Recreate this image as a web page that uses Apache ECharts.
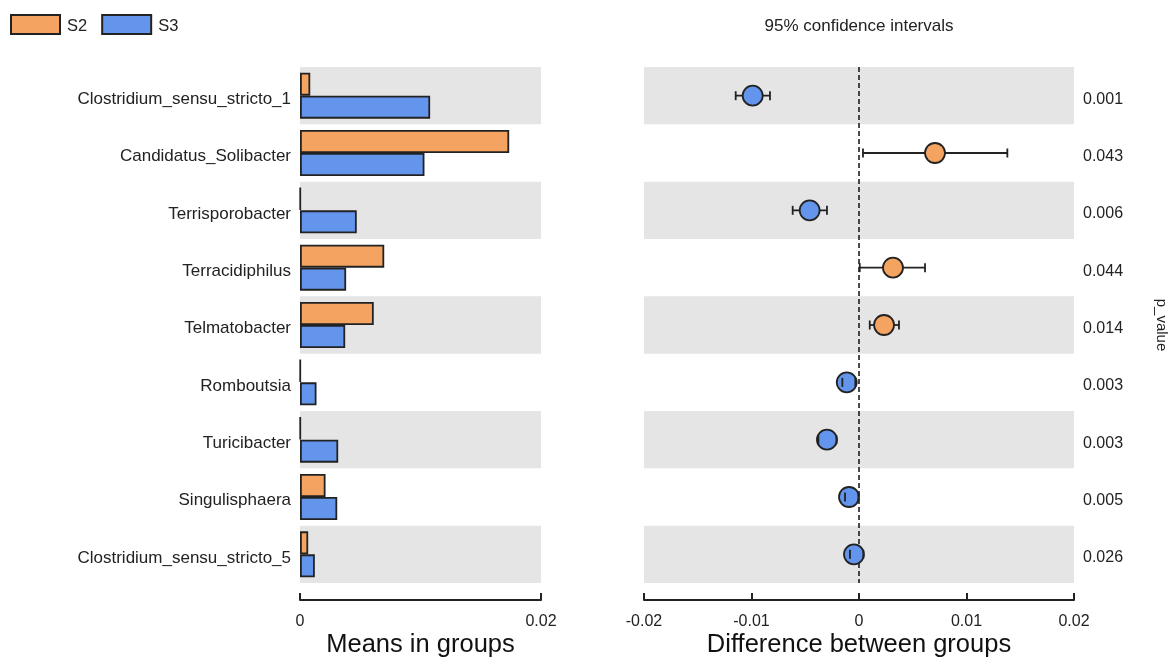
<!DOCTYPE html>
<html>
<head>
<meta charset="utf-8">
<script src="https://cdn.jsdelivr.net/npm/echarts@6/dist/echarts.min.js"></script>
<style>
  html, body { margin: 0; padding: 0; background: #fff; }
  #chart { width: 1172px; height: 658px; }
</style>
</head>
<body>
<div id="chart"></div>
<script>
// Genera compared between groups S2 and S3
const genera = [
  'Clostridium_sensu_stricto_1',
  'Candidatus_Solibacter',
  'Terrisporobacter',
  'Terracidiphilus',
  'Telmatobacter',
  'Romboutsia',
  'Turicibacter',
  'Singulisphaera',
  'Clostridium_sensu_stricto_5'
];
// Mean relative abundance per group
const meanS2 = [0.00085, 0.01736, 0.00004, 0.00699, 0.00612, 0.00004, 0.00004, 0.00212, 0.00068];
const meanS3 = [0.0108, 0.01033, 0.00471, 0.00383, 0.00375, 0.00137, 0.00317, 0.00309, 0.00123];
// Difference between groups with 95% confidence interval
const diffEst = [-0.00989, 0.00707, -0.00459, 0.00316, 0.00233, -0.00114, -0.00298, -0.00093, -0.00047];
const ciLow  = [-0.01147, 0.00037, -0.00617, 0.00007, 0.00100, -0.00155, -0.00378, -0.00130, -0.00084];
const ciHigh = [-0.00828, 0.01380, -0.00298, 0.00614, 0.00372, -0.00034, -0.00210, -0.00006, 0.00040];
const pValues = ['0.001', '0.043', '0.006', '0.044', '0.014', '0.003', '0.003', '0.005', '0.026'];
// Axis ticks
const meanTicks = [0, 0.02];
const diffTicks = [-0.02, -0.01, 0, 0.01, 0.02];

const COLOR_S2 = '#F4A460';
const COLOR_S3 = '#6495ED';
const EDGE = '#222222';
const FONT = 'Arial, "Liberation Sans", sans-serif';
const BAND = ['#E5E5E5', 'rgba(255,255,255,0)'];

const chart = echarts.init(document.getElementById('chart'));

const whiskerData = genera.map((g, i) => [ciLow[i], ciHigh[i], i]);
const pointData = genera.map((g, i) => ({
  value: [diffEst[i], i],
  itemStyle: { color: diffEst[i] > 0 ? COLOR_S2 : COLOR_S3 }
}));

// Horizontal span of each confidence interval (drawn beneath the points)
function renderSpan(params, api) {
  const a = api.coord([api.value(0), api.value(2)]);
  const b = api.coord([api.value(1), api.value(2)]);
  return {
    type: 'line',
    shape: { x1: a[0], y1: a[1], x2: b[0], y2: b[1] },
    style: { stroke: EDGE, lineWidth: 1.8 }
  };
}

// End caps of each confidence interval (drawn above the points)
function renderCaps(params, api) {
  const a = api.coord([api.value(0), api.value(2)]);
  const b = api.coord([api.value(1), api.value(2)]);
  const h = 4.5;
  return {
    type: 'group',
    children: [
      { type: 'line', shape: { x1: a[0], y1: a[1] - h, x2: a[0], y2: a[1] + h }, style: { stroke: EDGE, lineWidth: 1.8 } },
      { type: 'line', shape: { x1: b[0], y1: b[1] - h, x2: b[0], y2: b[1] + h }, style: { stroke: EDGE, lineWidth: 1.8 } }
    ]
  };
}

const valueAxisCommon = {
  type: 'value',
  position: 'bottom',
  offset: 17,
  splitLine: { show: false },
  axisLine: { show: true, onZero: false, lineStyle: { color: EDGE, width: 2 } },
  axisTick: { show: true, inside: true, length: 7, lineStyle: { color: EDGE, width: 2 } },
  axisLabel: { color: '#222', fontSize: 16, fontFamily: FONT, margin: 14 },
  nameLocation: 'middle',
  nameGap: 32,
  nameMoveOverlap: false,
  nameTextStyle: { color: '#111', fontSize: 25.5, fontFamily: FONT }
};

// Row labels are nudged a little below the row centre
const rowLabelRich = (size) => ({ t: { fontSize: size, fontFamily: FONT, color: '#222', padding: [7, 0, 0, 0] } });

const option = {
  animation: false,
  backgroundColor: '#fff',
  legend: {
    left: 10,
    top: 14,
    padding: 0,
    itemWidth: 49,
    itemHeight: 19,
    itemGap: 14,
    icon: 'rect',
    data: ['S2', 'S3'],
    formatter: (name) => '{t|' + name + '}',
    textStyle: {
      fontSize: 16.5,
      color: '#222',
      fontFamily: FONT,
      rich: { t: { fontSize: 16.5, fontFamily: FONT, color: '#222', padding: [4, 0, 0, 2] } }
    }
  },
  graphic: [
    {
      type: 'text',
      x: 859,
      y: 26,
      style: {
        text: '95% confidence intervals',
        align: 'center',
        verticalAlign: 'middle',
        fontSize: 17,
        fontFamily: FONT,
        fill: '#222'
      }
    }
  ],
  grid: [
    { left: 300, top: 67, width: 241, height: 516, outerBoundsMode: 'none' },
    { left: 644, top: 67, width: 430, height: 516, outerBoundsMode: 'none' }
  ],
  xAxis: [
    Object.assign({}, valueAxisCommon, {
      gridIndex: 0,
      min: meanTicks[0],
      max: meanTicks[meanTicks.length - 1],
      interval: meanTicks[1] - meanTicks[0],
      name: 'Means in groups'
    }),
    Object.assign({}, valueAxisCommon, {
      gridIndex: 1,
      min: diffTicks[0],
      max: diffTicks[diffTicks.length - 1],
      interval: diffTicks[1] - diffTicks[0],
      name: 'Difference between groups'
    })
  ],
  yAxis: [
    {
      type: 'category',
      gridIndex: 0,
      data: genera,
      inverse: true,
      axisLine: { show: false },
      axisTick: { show: false },
      axisLabel: {
        interval: 0,
        margin: 9,
        formatter: (v) => '{t|' + v + '}',
        rich: rowLabelRich(17)
      },
      splitArea: { show: true, interval: 0, areaStyle: { color: BAND } }
    },
    {
      type: 'category',
      gridIndex: 1,
      data: genera,
      inverse: true,
      position: 'right',
      axisLine: { show: false },
      axisTick: { show: false },
      axisLabel: {
        interval: 0,
        margin: 9,
        formatter: (v, idx) => '{t|' + pValues[idx] + '}',
        rich: rowLabelRich(16)
      },
      splitArea: { show: true, interval: 0, areaStyle: { color: BAND } },
      name: 'p_value',
      nameLocation: 'middle',
      nameRotate: -90,
      nameGap: 80,
      nameMoveOverlap: false,
      nameTextStyle: { color: '#222', fontSize: 15, fontFamily: FONT }
    }
  ],
  series: [
    {
      name: 'S2',
      type: 'bar',
      xAxisIndex: 0,
      yAxisIndex: 0,
      data: meanS2,
      barWidth: 23,
      barGap: '0%',
      itemStyle: { color: COLOR_S2, borderColor: EDGE, borderWidth: 1.8 }
    },
    {
      name: 'S3',
      type: 'bar',
      xAxisIndex: 0,
      yAxisIndex: 0,
      data: meanS3,
      barWidth: 23,
      barGap: '0%',
      itemStyle: { color: COLOR_S3, borderColor: EDGE, borderWidth: 1.8 }
    },
    {
      name: 'interval',
      type: 'custom',
      xAxisIndex: 1,
      yAxisIndex: 1,
      data: whiskerData,
      encode: { x: [0, 1], y: 2 },
      renderItem: renderSpan,
      z: 2
    },
    {
      name: 'difference',
      type: 'scatter',
      xAxisIndex: 1,
      yAxisIndex: 1,
      data: pointData,
      symbol: 'circle',
      symbolSize: 20,
      z: 3,
      itemStyle: { borderColor: EDGE, borderWidth: 1.8, opacity: 1 },
      markLine: {
        silent: true,
        z: 1,
        symbol: 'none',
        label: { show: false },
        lineStyle: { color: '#111', type: [5, 3], width: 1.5 },
        data: [{ xAxis: 0 }]
      }
    },
    {
      name: 'caps',
      type: 'custom',
      xAxisIndex: 1,
      yAxisIndex: 1,
      data: whiskerData,
      encode: { x: [0, 1], y: 2 },
      renderItem: renderCaps,
      z: 4
    }
  ]
};

chart.setOption(option);
</script>
</body>
</html>
